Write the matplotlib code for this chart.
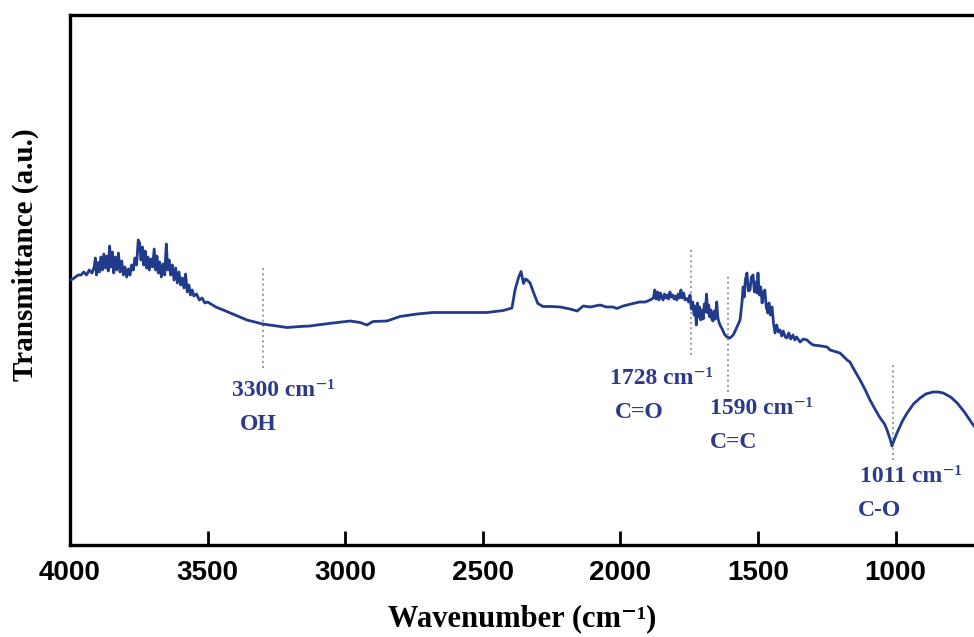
import numpy as np
import matplotlib
matplotlib.use('Agg')
import matplotlib.pyplot as plt

# --- FTIR spectrum ---
wavenumber = [
    4000, 3990, 3980, 3970, 3960, 3950, 3940, 3930, 3920, 3912, 3908, 3904, 3898, 3893,
    3888, 3882, 3877, 3871, 3866, 3861, 3856, 3851, 3846, 3841, 3836, 3830, 3824, 3818,
    3812, 3806, 3800, 3794, 3788, 3782, 3776, 3770, 3764, 3758, 3752, 3747, 3742, 3737,
    3732, 3727, 3722, 3717, 3712, 3706, 3700, 3694, 3689, 3684, 3679, 3674, 3668, 3662,
    3656, 3650, 3645, 3640, 3634, 3628, 3622, 3616, 3610, 3604, 3598, 3592, 3586, 3580,
    3574, 3568, 3562, 3556, 3550, 3540, 3530, 3520, 3510, 3500, 3470, 3430, 3400, 3357,
    3300, 3250, 3211, 3164, 3128, 3102, 3044, 2982, 2946, 2921, 2899, 2848, 2801, 2739,
    2681, 2600, 2557, 2485, 2426, 2394, 2383, 2370, 2361, 2352, 2345, 2339, 2328, 2317,
    2300, 2281, 2250, 2219, 2183, 2157, 2135, 2110, 2074, 2050, 2026, 2013, 1990, 1976,
    1954, 1930, 1910, 1892, 1880, 1875, 1870, 1865, 1860, 1855, 1850, 1845, 1840, 1835,
    1830, 1825, 1820, 1815, 1810, 1805, 1800, 1795, 1790, 1785, 1780, 1775, 1770, 1765,
    1758, 1752, 1747, 1742, 1737, 1732, 1728, 1724, 1720, 1716, 1712, 1708, 1704, 1699,
    1695, 1691, 1687, 1683, 1679, 1675, 1671, 1667, 1663, 1659, 1655, 1650, 1646, 1642,
    1638, 1630, 1622, 1613, 1602, 1590, 1578, 1565, 1558, 1554, 1550, 1546, 1540, 1535,
    1529, 1524, 1518, 1513, 1508, 1504, 1500, 1495, 1490, 1485, 1480, 1475, 1470, 1464,
    1460, 1455, 1449, 1444, 1438, 1432, 1426, 1420, 1414, 1408, 1401, 1395, 1388, 1381,
    1373, 1366, 1360, 1347, 1335, 1322, 1310, 1300, 1270, 1249, 1238, 1202, 1176, 1166,
    1150, 1129, 1110, 1093, 1075, 1056, 1040, 1031, 1020, 1013, 1005, 995, 975, 958,
    935, 911, 890, 864, 845, 827, 800, 776, 750, 718, 715,
]
transmittance = [
    53.0, 53.2, 53.6, 54.0, 54.0, 54.6, 54.0, 55.0, 54.4, 55.6, 57.4, 54.0, 56.5, 54.6,
    57.6, 55.0, 58.2, 55.4, 57.8, 54.8, 59.8, 55.6, 58.6, 54.4, 57.6, 55.0, 58.4, 54.6,
    56.8, 54.0, 55.6, 53.6, 55.2, 54.0, 56.0, 55.0, 57.4, 56.0, 61.0, 60.4, 57.0, 59.6,
    56.0, 58.8, 55.4, 57.6, 55.0, 57.2, 55.6, 59.2, 55.0, 57.8, 54.4, 56.6, 53.6, 56.2,
    54.0, 60.2, 55.0, 57.0, 54.0, 56.0, 53.0, 55.4, 52.4, 54.6, 52.0, 53.4, 51.4, 54.2,
    50.6, 52.0, 50.0, 51.0, 49.8, 50.2, 49.0, 49.4, 48.4, 48.6, 47.6, 46.7, 46.0, 45.0,
    44.2, 43.8, 43.5, 43.7, 43.8, 44.0, 44.4, 44.8, 44.5, 44.0, 44.7, 44.8, 45.7, 46.2,
    46.5, 46.5, 46.5, 46.5, 46.9, 47.4, 51.0, 53.5, 54.7, 52.3, 53.2, 53.0, 52.4, 50.7,
    48.3, 47.7, 47.7, 47.6, 47.2, 46.8, 47.8, 47.6, 48.0, 47.6, 47.6, 47.3, 47.8, 48.0,
    48.3, 48.6, 48.6, 49.0, 49.4, 51.0, 49.2, 50.6, 49.0, 50.4, 49.6, 49.0, 50.2, 49.4,
    50.0, 49.2, 50.6, 49.6, 50.0, 49.2, 49.8, 49.0, 50.2, 49.4, 51.0, 49.4, 50.4, 49.0,
    49.3, 48.6, 50.0, 47.2, 48.6, 46.0, 47.8, 44.0, 48.4, 45.6, 47.6, 45.0, 47.0, 45.2,
    48.2, 46.6, 50.2, 46.4, 48.0, 45.6, 47.0, 45.0, 44.8, 46.8, 45.2, 48.6, 45.6, 44.6,
    44.0, 43.2, 42.2, 41.6, 41.4, 42.0, 43.4, 45.0, 48.6, 51.6, 49.6, 53.0, 54.4, 50.8,
    51.0, 53.6, 54.0, 50.6, 52.6, 50.4, 54.4, 50.0, 51.6, 48.4, 50.6, 51.0, 47.6, 46.4,
    48.4, 46.0, 47.6, 44.6, 42.4, 44.0, 42.6, 43.0, 41.8, 42.8, 41.6, 41.4, 42.4, 41.2,
    42.0, 41.0, 41.6, 40.6, 41.2, 41.0, 40.4, 40.0, 39.8, 39.6, 39.0, 38.4, 37.0, 36.6,
    35.0, 33.0, 31.0, 29.0, 27.2, 25.4, 24.2, 23.0, 21.2, 19.8, 21.0, 22.4, 24.8, 26.4,
    28.2, 29.4, 30.2, 30.6, 30.6, 30.4, 29.6, 28.4, 26.6, 24.0, 23.8,
]

# --- band assignments ---
band_pos = [3299, 1745, 1609, 1009]            # where the dotted markers sit
band_span = [(35.4, 55.4), (38.0, 59.0), (30.6, 54.0), (17.0, 36.4)]
band_text = ['3300', '1728', '1590', '1011']
band_group = ['OH', 'C=O', 'C=C', 'C-O']
text_xy = [(3411, 30.8), (2038, 33.2), (1674, 27.4), (1129, 13.6)]
group_xy = [(3382, 24.0), (2020, 26.6), (1674, 20.6), (1136, 6.8)]

line_color = '#223a8c'
text_color = '#2b3a8c'
serif = ['Liberation Serif', 'DejaVu Serif']

fig = plt.figure(figsize=(9.74, 6.37), dpi=100)
ax = fig.add_axes([70 / 974, 1 - 545 / 637, 904 / 974, 530 / 637])

ax.plot(wavenumber, transmittance, color=line_color, lw=2.0, zorder=3)

for x, (y0, y1) in zip(band_pos, band_span):
    ax.plot([x, x], [y0, y1], color='#9a9a9a', ls=':', lw=1.4, zorder=2)

for (tx, ty), num in zip(text_xy, band_text):
    ax.text(tx, ty, num + ' cm\u207b\u00b9', color=text_color, fontsize=17,
            fontweight='bold', family=serif, ha='left', va='center')
for (gx, gy), grp in zip(group_xy, band_group):
    ax.text(gx, gy, grp, color=text_color, fontsize=17, fontweight='bold',
            family=serif, ha='left', va='center')

ax.set_xlim(4000, 715)
ax.set_ylim(0, 106)
ax.set_xticks([4000, 3500, 3000, 2500, 2000, 1500, 1000])
ax.set_yticks([])
ax.tick_params(axis='x', direction='in', length=10, width=2, pad=11, top=False)
for lab in ax.get_xticklabels():
    lab.set_family('Liberation Sans')
    lab.set_fontweight('bold')
    lab.set_fontsize(20)

for side in ['left', 'bottom', 'top']:
    ax.spines[side].set_linewidth(2.4)
ax.spines['right'].set_visible(False)

ax.set_xlabel('Wavenumber (cm\u207b\u00b9)', family=serif,
              fontweight='bold', fontsize=22, labelpad=13)
ax.set_ylabel('Transmittance (a.u.)', family=serif,
              fontweight='bold', fontsize=21)
ax.yaxis.set_label_coords(-0.034, 0.547)

plt.savefig('out.png', dpi=100, facecolor='white')
plt.close()
